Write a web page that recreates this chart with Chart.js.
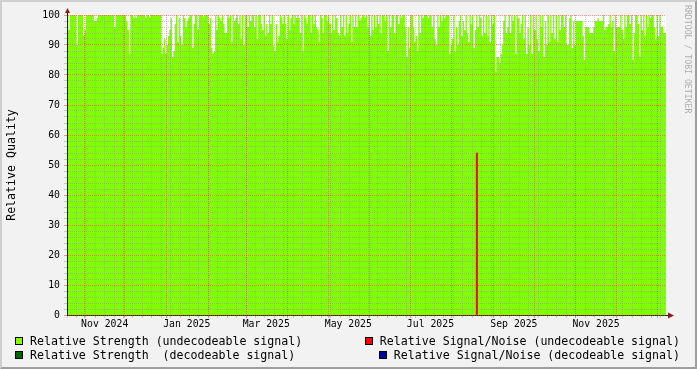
<!DOCTYPE html>
<html>
<head>
<meta charset="utf-8">
<script src="https://cdn.jsdelivr.net/npm/chart.js@4.4.1/dist/chart.umd.min.js"></script>
<style>
html,body{margin:0;padding:0;background:#f2f2f2;}
body{width:697px;height:369px;overflow:hidden;position:relative;}
#frame{position:absolute;left:0;top:0;width:693px;height:365px;background:#f2f2f2;border-style:solid;border-width:2px;border-color:#cfcfcf #9e9e9e #9e9e9e #cfcfcf;}
#c{position:absolute;left:0;top:0;}
.leg{position:absolute;display:flex;align-items:center;font-family:'DejaVu Sans Mono',monospace;font-size:11.6px;white-space:pre;color:#000;height:14px;line-height:14px;}
.sw{width:6px;height:6px;border:1px solid #000;margin-right:7px;flex:none;}
#wm{position:absolute;left:682.5px;top:5px;width:10px;line-height:10px;writing-mode:vertical-rl;font-family:'DejaVu Sans Mono',monospace;font-size:8.2px;color:rgba(0,0,0,0.3);white-space:pre;}
</style>
</head>
<body>
<div id="frame"></div>
<canvas id="c" width="697" height="369"></canvas>
<div id="wm"></div>
<script>
// ---------- data ----------
const firstDay = '2024-10-19';
const lastDay = '2026-01-07';

// daily "Relative Strength (undecodeable signal)" values, per month
const oct2024 = [100,95,100,100,100,100,100,90,100,100,100,100,93];
const nov2024 = [95,100,100,100,100,100,100,98,98,99,100,100,100,100,100,100,100,100,100,100,100,100,96,100,100,100,100,100,100,100];
const dec2024 = [100,98,95,87,100,100,99,100,99,100,100,100,100,100,100,99,100,100,99,100,100,100,100,100,100,100,100,87,89,92,87];
const jan2025 = [90,93,95,99,86,88,97,100,91,99,93,90,100,99,96,98,99,100,100,89,97,100,100,95,100,100,100,99,100,100,100];
const feb2025 = [97,99,89,87,88,100,95,100,99,98,100,97,94,94,100,99,100,91,100,98,99,100,97,100,92,100,90,100];
const mar2025 = [100,96,100,98,100,100,96,100,92,100,100,97,95,100,93,97,94,100,97,100,90,88,97,91,93,100,99,97,100,97,92];
const apr2025 = [100,95,99,100,97,100,99,100,99,94,100,88,100,99,97,100,100,94,100,97,100,96,95,91,100,99,94,100,100,98];
const may2025 = [100,97,94,100,95,100,99,94,93,100,96,100,93,100,94,97,100,91,100,96,100,96,100,98,99,100,100,99,100,96,100];
const jun2025 = [93,100,95,100,96,100,97,100,94,100,100,98,100,88,100,96,100,100,94,100,100,97,100,99,100,100,96,86,96,89];
const jul2025 = [100,100,96,91,93,88,100,94,100,99,100,100,100,99,100,100,96,100,92,90,100,96,100,98,100,99,100,100,100,87,90];
const aug2025 = [92,100,88,96,90,98,100,93,98,95,100,94,91,100,97,100,89,95,100,96,100,99,93,100,94,100,93,100,91,100,97];
const sep2025 = [100,81,86,86,84,87,90,98,100,94,96,100,94,100,98,100,87,100,99,94,97,100,92,100,87,96,90,100,87,100];
const oct2025 = [95,100,92,88,100,96,100,86,98,90,100,91,100,94,100,92,100,91,100,95,100,100,96,100,90,90,99,100,89,98,90];
const nov2025 = [98,98,98,98,98,93,85,96,96,96,94,94,94,96,98,98,99,98,98,98,100,95,96,96,97,100,96,98,88,100];
const dec2025 = [96,96,96,100,95,92,100,96,100,100,97,100,85,94,100,100,97,86,100,95,100,93,100,96,100,99,100,100,96,92,100];
const jan2026 = [93,100,96,96,94,94];

// "Relative Signal/Noise (undecodeable signal)" readings
const snrDates = ['2025-08-19'];
const snrValues = [54];

// axis labels
const xLabelTexts = ['Nov 2024','Jan 2025','Mar 2025','May 2025','Jul 2025','Sep 2025','Nov 2025'];
const xLabelDates = ['2024-11-16','2025-01-16','2025-03-16','2025-05-16','2025-07-16','2025-09-16','2025-11-16'];
const monthLineDates = ['2024-11-01','2024-12-01','2025-01-01','2025-02-01','2025-03-01','2025-04-01','2025-05-01','2025-06-01','2025-07-01','2025-08-01','2025-09-01','2025-10-01','2025-11-01','2025-12-01','2026-01-01'];
const yLabelValues = [0,10,20,30,40,50,60,70,80,90,100];
const yMinorValues = [2,4,6,8,12,14,16,18,22,24,26,28,32,34,36,38,42,44,46,48,52,54,56,58,62,64,66,68,72,74,76,78,82,84,86,88,92,94,96,98];

const yTitle = 'Relative Quality';
const legendLabels = ['Relative Strength (undecodeable signal)','Relative Strength  (decodeable signal)','Relative Signal/Noise (undecodeable signal)','Relative Signal/Noise (decodeable signal)'];
const legendColors = ['#80ff00','#006400','#ff0000','#00009c'];
const watermark = 'RRDTOOL / TOBI OETIKER';

// ---------- build ----------
const DAY = 864e5;
const t0 = Date.parse(firstDay + 'T00:00:00Z');
const dayOf = s => (Date.parse(s + 'T00:00:00Z') - t0) / DAY;

const strength = [].concat(oct2024,nov2024,dec2024,jan2025,feb2025,mar2025,apr2025,may2025,jun2025,jul2025,aug2025,sep2025,oct2025,nov2025,dec2025,jan2026);
const strengthPts = strength.map((v,i)=>({x:i,y:v}));
strengthPts.push({x:strength.length, y:strength[strength.length-1]});
const snrPts = snrDates.map((d,i)=>({x:dayOf(d)+0.5, y:snrValues[i]}));

const xMax = dayOf(lastDay);
// weekly minor grid (Saturdays)
const weekTicks = [];
for (let d = 0; d <= xMax; d++) {
  const wd = new Date(t0 + d*DAY).getUTCDay();
  if (wd === 6) weekTicks.push(d);
}
const xTicks = [];
weekTicks.forEach(d => xTicks.push({value:d, kind:'minor'}));
monthLineDates.forEach(s => xTicks.push({value:dayOf(s), kind:'major'}));
xLabelDates.forEach((s,i) => xTicks.push({value:dayOf(s), kind:'label', text:xLabelTexts[i]}));

const yTicks = [];
yMinorValues.forEach(v => yTicks.push({value:v, kind:'minor'}));
yLabelValues.forEach(v => yTicks.push({value:v, kind:'major'}));

const MINOR = 'rgba(143,143,143,0.42)';
const MAJOR = 'rgba(222,79,79,0.55)';
const AXIS = '#1f1f1f';
const ARROW = '#801f1f';
const MONO = "'DejaVu Sans Mono', monospace";

const gridColor = c => {
  const k = c.tick && c.tick.kind;
  if (k === 'major') return MAJOR;
  if (k === 'minor') return MINOR;
  return 'rgba(0,0,0,0)';
};

const plotBg = {
  id:'plotBg',
  beforeDraw(chart){
    const a = chart.chartArea, ctx = chart.ctx;
    ctx.save(); ctx.fillStyle = '#ffffff';
    ctx.fillRect(a.left, a.top, a.right-a.left, a.bottom-a.top);
    ctx.restore();
  }
};
const arrows = {
  id:'arrows',
  afterDraw(chart){
    const a = chart.chartArea, ctx = chart.ctx;
    const ax = Math.round(a.left) + 0.5, ay = Math.round(a.bottom) + 0.5;
    ctx.save();
    ctx.strokeStyle = AXIS; ctx.lineWidth = 1;
    ctx.beginPath(); ctx.moveTo(a.right, ay); ctx.lineTo(a.right + 3, ay); ctx.stroke();
    ctx.beginPath(); ctx.moveTo(ax, a.top); ctx.lineTo(ax, a.top - 2); ctx.stroke();
    ctx.fillStyle = ARROW;
    ctx.beginPath(); ctx.moveTo(a.right + 2, ay - 3); ctx.lineTo(a.right + 8, ay); ctx.lineTo(a.right + 2, ay + 3); ctx.closePath(); ctx.fill();
    ctx.beginPath(); ctx.moveTo(ax - 2.5, a.top - 2); ctx.lineTo(ax, a.top - 7); ctx.lineTo(ax + 2.5, a.top - 2); ctx.closePath(); ctx.fill();
    ctx.restore();
  }
};

new Chart(document.getElementById('c'), {
  type:'line',
  data:{
    datasets:[
      {label:legendLabels[0], data:strengthPts, stepped:true, fill:'origin', backgroundColor:legendColors[0], borderWidth:0, pointRadius:0, order:2},
      {type:'bar', label:legendLabels[2], data:snrPts, backgroundColor:legendColors[2], borderWidth:0, barThickness:1.4, order:1}
    ]
  },
  options:{
    responsive:false, animation:false, devicePixelRatio:1, events:[],
    layout:{padding:{left:0,right:31,top:15,bottom:0}},
    plugins:{legend:{display:false}, tooltip:{enabled:false}},
    scales:{
      x:{
        type:'linear', min:0, max:xMax, offset:false,
        afterFit:s=>{s.height=54;},
        afterBuildTicks:s=>{s.ticks = xTicks.map(t=>Object.assign({},t));},
        grid:{color:gridColor, lineWidth:1, tickLength:3, offset:false, z:1},
        border:{color:AXIS, width:1, dash:[1,1], z:1},
        ticks:{autoSkip:false, maxRotation:0, padding:1, color:'#000', font:{family:MONO,size:9.8},
          callback:(v,i,ticks)=> ticks[i].kind==='label' ? ticks[i].text : ''}
      },
      y:{
        type:'linear', min:0, max:100,
        afterFit:s=>{s.width=67;},
        afterBuildTicks:s=>{s.ticks = yTicks.map(t=>Object.assign({},t));},
        grid:{color:gridColor, lineWidth:1, tickLength:3, z:1},
        border:{color:AXIS, width:1, dash:[1,1], z:1},
        ticks:{autoSkip:false, padding:4, color:'#000', font:{family:MONO,size:9.8},
          callback:(v,i,ticks)=> ticks[i].kind==='major' ? String(v) : ''},
        title:{display:true, text:yTitle, color:'#000', font:{family:MONO,size:11.6}, padding:{top:5,bottom:0}}
      }
    }
  },
  plugins:[plotBg, arrows]
});

// legend (RRD style, two columns)
function legendItem(i, side, pos, top){
  const d = document.createElement('div');
  d.className = 'leg';
  d.style.top = top + 'px';
  d.style[side] = pos + 'px';
  const sw = document.createElement('span'); sw.className='sw'; sw.style.background = legendColors[i];
  const tx = document.createElement('span'); tx.textContent = legendLabels[i];
  d.appendChild(sw); d.appendChild(tx);
  document.body.appendChild(d);
}
legendItem(0,'left',15,333.5);
legendItem(1,'left',15,347.5);
legendItem(2,'right',17,333.5);
legendItem(3,'right',17,347.5);
document.getElementById('wm').textContent = watermark;
</script>
</body>
</html>
